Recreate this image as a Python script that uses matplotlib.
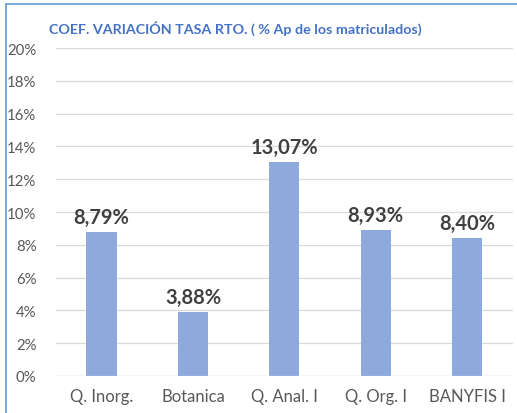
import matplotlib.pyplot as plt
from matplotlib.ticker import FuncFormatter
from matplotlib.patches import Rectangle

# Datos
categorias = ['Q. Inorg.', 'Botanica', 'Q. Anal. I', 'Q. Org. I', 'BANYFIS I']
valores = [8.79, 3.88, 13.07, 8.93, 8.40]
etiquetas = ['8,79%', '3,88%', '13,07%', '8,93%', '8,40%']
titulo = 'COEF. VARIACIÓN TASA RTO. ( % Ap de los matriculados)'

plt.rcParams['font.family'] = ['Lato', 'DejaVu Sans']

fig = plt.figure(figsize=(5.17, 4.14), dpi=100)
ax = fig.add_axes([0.108, 0.0894, 0.884, 0.7922])

x = range(len(categorias))
ax.bar(x, valores, width=0.33, color='#8EA9DB', zorder=3)

for i, v in enumerate(valores):
    ax.text(i, v + 0.3, etiquetas[i], ha='center', va='bottom',
            fontsize=14.5, fontweight='bold', color='#404040')

ax.set_ylim(0, 20)
ax.set_xlim(-0.5, len(categorias) - 0.5)
ax.set_yticks(range(0, 21, 2))
ax.yaxis.set_major_formatter(FuncFormatter(lambda v, p: f'{int(v)}%'))
ax.set_xticks(list(x))
ax.set_xticklabels(categorias)
ax.tick_params(axis='y', length=0, pad=14, labelsize=10.8, labelcolor='#595959')
ax.tick_params(axis='x', length=0, pad=9, labelsize=12, labelcolor='#595959')
ax.grid(axis='y', color='#D9D9D9', linewidth=0.9, zorder=0)
for s in ax.spines.values():
    s.set_visible(False)
ax.axhline(0, color='#D9D9D9', linewidth=0.9, zorder=4)

fig.text(49 / 517, 1 - 29 / 414, titulo, ha='left', va='center',
         fontsize=10.3, fontweight='bold', color='#4472C4')

# Borde del gráfico
fig.patches.append(Rectangle((6 / 517, -0.1), 1.2, 1 - 5 / 414 + 0.1,
                             transform=fig.transFigure, fill=False,
                             edgecolor='#5B9BD5', linewidth=1.2))

fig.savefig('out.png', dpi=100)
